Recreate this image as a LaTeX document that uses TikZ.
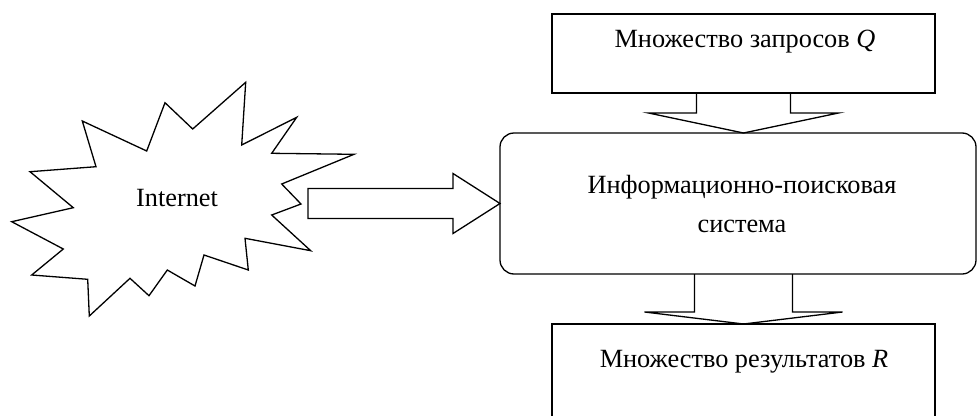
\documentclass[tikz,border=0pt]{standalone}
\usepackage{fontspec}
\setmainfont{Liberation Serif}
\usetikzlibrary{calc}

\begin{document}
\begin{tikzpicture}[x=1pt,y=-1pt,line join=miter,
  box/.style={draw,line width=1.3pt,inner sep=0pt,outer sep=0pt},
  roundbox/.style={box,rounded corners=14pt},
  fatarrow/.style={draw,line width=1.3pt},
  txt/.style={font=\fontsize{26.3}{31}\selectfont,align=center},
  ]
%%
\useasboundingbox (0,0) rectangle (977,415);
\clip (-1,-1) rectangle (978,416);
%% star
\draw[line width=1.3pt] (245.7,82.3) -- (241.7,145) -- (296.7,117.3) -- (271.7,153.3)
  -- (354,154.3) -- (281.7,184) -- (301,204) -- (271.7,215) -- (310.7,250.7)
  -- (245,238.3) -- (248.3,270) -- (204,255) -- (195,286) -- (167.3,270)
  -- (149,295.7) -- (130,278.3) -- (89.3,316) -- (87.7,279.3) -- (31.7,275)
  -- (63.3,249) -- (11.7,221.7) -- (73.3,207.7) -- (30,171.7) -- (96,166.7)
  -- (82.3,121) -- (146.7,151) -- (165,102.7) -- (192.7,129) -- cycle;
\node (internet) at (177,198) [txt] {Internet};
\coordinate (netout) at (308,203.5);
%% boxes
\node (queries) at (743.5,53.5) [box,minimum width=383pt,minimum height=79pt] {};
\node (queriestxt) at (745,42) [txt] {Множество запросов \textit{Q}};
\node (ips) at (738,203.5) [roundbox,minimum width=476pt,minimum height=141pt] {};
\node (ipstxt) at (742,204) [txt] {Информационно-поисковая\\[8pt]система};
\node (results) at (743.5,377) [box,minimum width=383pt,minimum height=106pt] {};
\node (resultstxt) at (744,362) [txt] {Множество результатов \textit{R}};
%% arrows
\draw[fatarrow] ($(netout)+(0,-15)$) -- ($(ips.west)+(-47,-15)$) -- ($(ips.west)+(-47,-30)$)
  -- (ips.west) -- ($(ips.west)+(-47,30)$) -- ($(ips.west)+(-47,15)$) -- ($(netout)+(0,15)$) -- cycle;
\draw[fatarrow] ($(queries.south)+(-47,0)$) -- ++(0,20) -- ++(-48,0) -- (queries.south |- ips.north)
  -- ($(queries.south)+(95,20)$) -- ++(-48,0) -- ($(queries.south)+(47,0)$);
\draw[fatarrow] ($(results.north |- ips.south)+(-49,0)$) -- ++(0,38) -- ++(-50,0) -- (results.north)
  -- ($(results.north |- ips.south)+(99,38)$) -- ++(-50,0) -- ($(results.north |- ips.south)+(49,0)$);
%
\end{tikzpicture}
\end{document}
